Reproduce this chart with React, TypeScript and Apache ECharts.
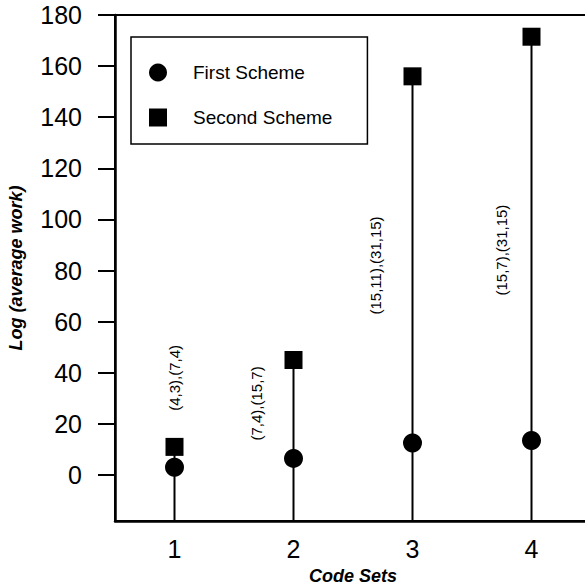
import React, { useEffect, useRef } from "react";
import * as echarts from "echarts";

const codeSets = [1, 2, 3, 4];
const firstScheme = [3, 6.5, 12.5, 13.5];
const secondScheme = [11, 45, 156, 171.5];
const yTicks = [0, 20, 40, 60, 80, 100, 120, 140, 160, 180];
const xTicks = [1, 2, 3, 4];
const pairLabels = ["(4,3),(7,4)", "(7,4),(15,7)", "(15,11),(31,15)", "(15,7),(31,15)"];
const pairLabelX = [1.0, 1.69, 2.69, 3.75];
const pairLabelY = [38, 28, 82, 88];

const Y_MIN = -18;
const Y_MAX = 180;
const FONT = "'Liberation Sans', Arial, Helvetica, sans-serif";

export default function App() {
  const ref = useRef<HTMLDivElement>(null);

  useEffect(() => {
    if (!ref.current) return;
    const chart = echarts.init(ref.current, null, { renderer: "svg" });
    chart.setOption({
      animation: false,
      backgroundColor: "#fff",
      textStyle: { fontFamily: FONT, color: "#000" },
      grid: {
        left: 115,
        right: -6,
        top: 15,
        bottom: 66,
        show: true,
        borderColor: "#000",
        borderWidth: 2,
        outerBoundsMode: "none",
        containLabel: false,
      },
      legend: {
        orient: "vertical",
        left: 131,
        top: 37,
        data: ["First Scheme", "Second Scheme"],
        itemWidth: 18,
        itemHeight: 18,
        itemGap: 26,
        padding: [26, 35, 17, 18],
        borderColor: "#000",
        borderWidth: 1.5,
        borderRadius: 0,
        backgroundColor: "#fff",
        textStyle: { fontFamily: FONT, fontSize: 19, color: "#000", padding: [0, 0, 0, 21] },
      },
      xAxis: {
        type: "value",
        min: 0.5,
        max: 4.5,
        name: "Code Sets",
        nameLocation: "middle",
        nameGap: 46,
        nameTextStyle: {
          fontFamily: FONT,
          fontSize: 18,
          lineHeight: 18,
          fontWeight: "bold",
          fontStyle: "italic",
          color: "#000",
        },
        axisLine: { show: true, onZero: false, lineStyle: { color: "#000", width: 2.5 } },
        axisTick: { show: false },
        splitLine: { show: false },
        axisLabel: {
          customValues: xTicks,
          fontFamily: FONT,
          fontSize: 25,
          color: "#000",
          margin: 15,
        },
      },
      yAxis: {
        type: "value",
        min: Y_MIN,
        max: Y_MAX,
        name: "Log (average work)",
        nameLocation: "middle",
        nameGap: 90,
        nameTextStyle: { fontFamily: FONT, fontSize: 18, fontWeight: "bold", fontStyle: "italic", color: "#000" },
        axisLine: { show: true, onZero: false, lineStyle: { color: "#000", width: 2.5 } },
        axisTick: { show: true, customValues: yTicks, inside: false, length: 17, lineStyle: { color: "#000", width: 2 } },
        splitLine: { show: false },
        axisLabel: {
          customValues: yTicks,
          fontFamily: FONT,
          fontSize: 25,
          color: "#000",
          margin: 33,
        },
      },
      series: [
        {
          type: "custom",
          name: "stems",
          silent: true,
          z: 1,
          data: codeSets.map((c, i) => [c, secondScheme[i]]),
          renderItem: (_params: any, api: any) => {
            const x = api.value(0);
            const y = api.value(1);
            const top = api.coord([x, y]);
            const bottom = api.coord([x, Y_MIN]);
            return {
              type: "line",
              shape: { x1: top[0], y1: top[1], x2: bottom[0], y2: bottom[1] },
              style: { stroke: "#000", lineWidth: 2 },
            };
          },
        },
        {
          type: "scatter",
          name: "First Scheme",
          symbol: "circle",
          symbolSize: 19,
          z: 3,
          itemStyle: { color: "#000", opacity: 1 },
          data: codeSets.map((c, i) => [c, firstScheme[i]]),
        },
        {
          type: "scatter",
          name: "Second Scheme",
          symbol: "rect",
          symbolSize: 18,
          z: 3,
          itemStyle: { color: "#000", opacity: 1 },
          data: codeSets.map((c, i) => [c, secondScheme[i]]),
        },
        {
          type: "custom",
          name: "pairs",
          silent: true,
          z: 4,
          data: pairLabels.map((t, i) => [pairLabelX[i], pairLabelY[i], t]),
          renderItem: (params: any, api: any) => {
            const p = api.coord([api.value(0), api.value(1)]);
            return {
              type: "text",
              x: p[0],
              y: p[1],
              rotation: Math.PI / 2,
              style: {
                text: pairLabels[params.dataIndex],
                fontFamily: FONT,
                fontSize: 15,
                fill: "#000",
                align: "center",
                verticalAlign: "middle",
              },
            };
          },
        },
      ],
    });
    return () => chart.dispose();
  }, []);

  return (
    <div
      ref={ref}
      style={{ position: "fixed", left: 0, top: 0, width: 585, height: 587, background: "#fff" }}
    />
  );
}
